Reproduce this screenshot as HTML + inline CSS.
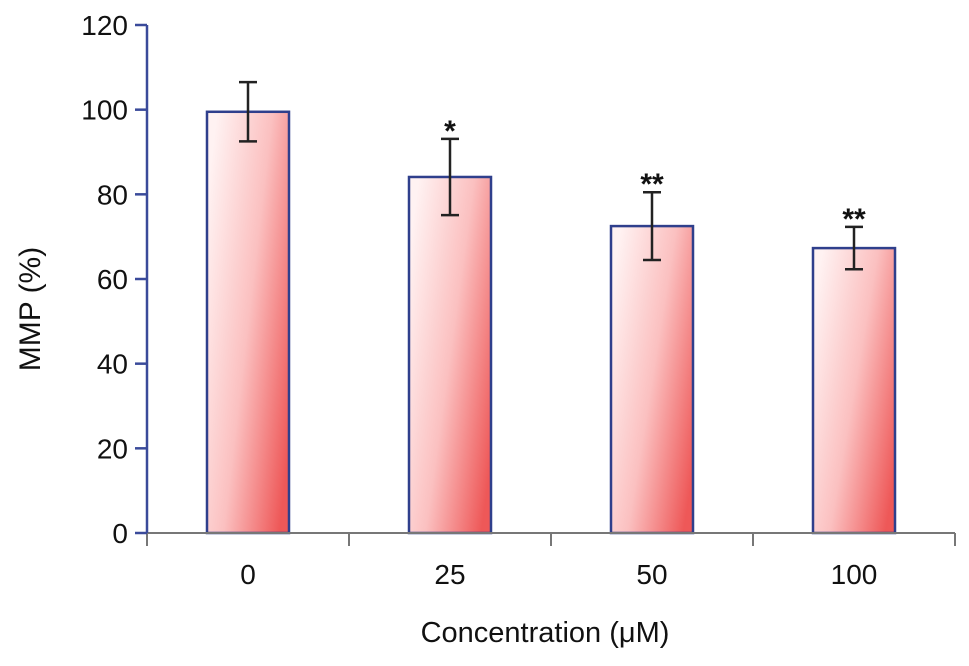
<!DOCTYPE html>
<html><head><meta charset="utf-8"><style>
body{margin:0;background:#fff;}
svg text{font-family:"Liberation Sans",sans-serif;fill:#111;}
</style></head><body>
<svg id="chart" width="969" height="661" viewBox="0 0 969 661" xmlns="http://www.w3.org/2000/svg">
<defs>
<linearGradient id="barGrad" x1="0" y1="0.2" x2="1" y2="0.8">
<stop offset="0" stop-color="#fff2f2"/>
<stop offset="0.5" stop-color="#fbc0c0"/>
<stop offset="1" stop-color="#ee5858"/>
</linearGradient>
</defs>
</svg>
<script>
const categories = ["0","25","50","100"];
const values = [99.5, 84.1, 72.5, 67.3];
const errors = [7, 9, 8, 5];
const stars = ["", "*", "**", "**"];
const yTicks = [0,20,40,60,80,100,120];

const svg = document.getElementById('chart');
const NS = 'http://www.w3.org/2000/svg';
const x0 = 147, x1 = 955, yBase = 533, yTop = 25, yMax = 120;
const y = v => yBase - (yBase - yTop) * v / yMax;
const band = (x1 - x0) / categories.length;
const xc = i => x0 + band * (i + 0.5);
const barW = 82;
function mk(tag, attrs, txt){const e=document.createElementNS(NS,tag);for(const k in attrs)e.setAttribute(k,attrs[k]);if(txt!==undefined)e.textContent=txt;svg.appendChild(e);return e;}

values.forEach((v,i)=>{
  const b = mk('rect',{x:xc(i)-barW/2,y:y(v),width:barW,height:yBase-y(v),fill:'url(#barGrad)',stroke:'#2f3f8c','stroke-width':2.5});
  
  
  const eb = mk('path',{d:`M${xc(i)} ${y(v+errors[i])}V${y(v-errors[i])}M${xc(i)-9} ${y(v+errors[i])}H${xc(i)+9}M${xc(i)-9} ${y(v-errors[i])}H${xc(i)+9}`,stroke:'#222','stroke-width':2.5,fill:'none'});
  
  
  if(stars[i]){
    const s = mk('text',{x:xc(i),y:y(v+errors[i])+2,'text-anchor':'middle','font-size':30,'font-weight':'bold'},stars[i]);
    
    
  }
  const l = mk('text',{x:xc(i),y:584,'text-anchor':'middle','font-size':28},categories[i]);
  
  
});
const xa = mk('line',{x1:x0-12,y1:yBase,x2:x1,y2:yBase,stroke:'#777','stroke-width':2});


for(let i=0;i<=categories.length;i++){
  const t = mk('line',{x1:x0+band*i,y1:yBase,x2:x0+band*i,y2:yBase+13,stroke:'#777','stroke-width':2});
  
  
}
const ya = mk('line',{x1:x0,y1:yTop,x2:x0,y2:yBase,stroke:'#3a4a9a','stroke-width':2.5});


yTicks.forEach(v=>{
  const t = mk('line',{x1:x0-12,y1:y(v),x2:x0,y2:y(v),stroke:'#3a4a9a','stroke-width':2.5});
  
  
  const l = mk('text',{x:128,y:y(v)+10,'text-anchor':'end','font-size':28},String(v));
  
  
});
const yt = mk('text',{x:0,y:0,'text-anchor':'middle','font-size':30,transform:`translate(40,${(yTop+yBase)/2+30}) rotate(-90)`},'MMP (%)');


const xt = mk('text',{x:545,y:642,'text-anchor':'middle','font-size':29},'Concentration (μM)');


</script>
</body></html>
